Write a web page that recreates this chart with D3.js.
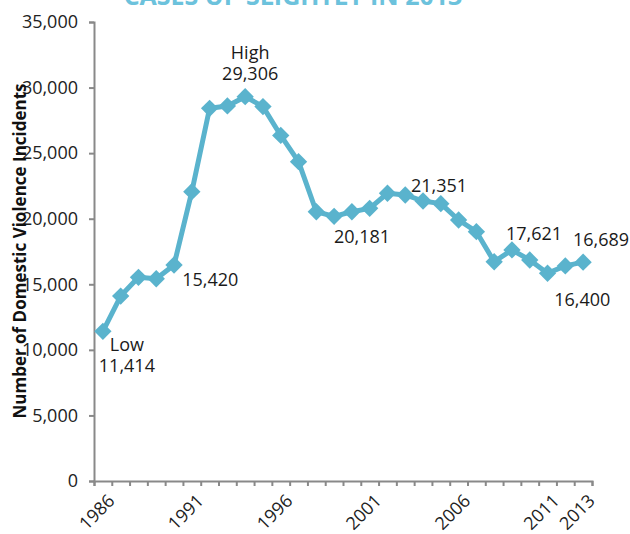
<!DOCTYPE html>
<html>
<head>
<meta charset="utf-8">
<script src="https://cdn.jsdelivr.net/npm/d3@7"></script>
<style>
  body { margin: 0; background: #fff; }
  svg { display: block; font-family: "Open Sans", sans-serif; }
</style>
</head>
<body>
<svg></svg>
<script>
const width = 630;
const height = 534;

const years = d3.range(1986, 2014);
const incidents = [11414, 14100, 15530, 15420, 16470, 22060, 28420, 28600, 29306, 28550,
    26350, 24350, 20530, 20181, 20530, 20790, 21940, 21810, 21351, 21150,
    19900, 19010, 16720, 17621, 16850, 15840, 16400, 16689];
const yTicks = [0, 5000, 10000, 15000, 20000, 25000, 30000, 35000];
const xLabels = [1986, 1991, 1996, 2001, 2006, 2011, 2013];

// annotations: year, text lines, offset from the point
const notes = [
    { year: 1986, lines: ['Low', '11,414'], dx: 24, dy: 20, anchor: 'middle' },
    { year: 1989, lines: ['15,420'], dx: 26, dy: 7, anchor: 'start' },
    { year: 1994, lines: ['High', '29,306'], dx: 5, dy: -38, anchor: 'middle' },
    { year: 1999, lines: ['20,181'], dx: 28, dy: 27, anchor: 'middle' },
    { year: 2004, lines: ['21,351'], dx: 16, dy: -9, anchor: 'middle' },
    { year: 2009, lines: ['17,621'], dx: 22, dy: -10, anchor: 'middle' },
    { year: 2012, lines: ['16,400'], dx: 17, dy: 40, anchor: 'middle' },
    { year: 2013, lines: ['16,689'], dx: 18, dy: -16, anchor: 'middle' }
];

const plotLeft = 94, plotRight = 592, plotTop = 22, plotBottom = 481;
const lineColor = '#5ab3cd';
const axisColor = '#898989';

const svg = d3.select('svg')
    .attr('width', width)
    .attr('height', height);

const xScale = d3.scaleBand()
    .domain(years)
    .range([plotLeft, plotRight]);

const xEdges = d3.scaleLinear()
    .domain([1985.5, 2013.5])
    .range([plotLeft, plotRight]);

const yScale = d3.scaleLinear()
    .domain([0, 35000])
    .range([plotBottom, plotTop]);

const cx = y => xScale(y) + xScale.bandwidth() / 2;

// title, cut off at the top
svg.append('text')
    .attr('x', 293)
    .attr('y', 5)
    .attr('text-anchor', 'middle')
    .attr('font-size', 25)
    .attr('font-weight', 'bold')
    .attr('fill', '#6cc2dc')
    .text('CASES UP SLIGHTLY IN 2013');

// y axis
const yAxis = svg.append('g')
    .attr('transform', `translate(${plotLeft}, 0)`)
    .call(d3.axisLeft(yScale)
        .tickValues(yTicks)
        .tickSize(5)
        .tickPadding(11)
        .tickFormat(d3.format(',')));

yAxis.selectAll('text')
    .attr('font-size', 18)
    .attr('font-family', '"Open Sans", sans-serif')
    .attr('fill', '#222');

// x axis tick marks between categories
svg.append('g')
    .attr('transform', `translate(0, ${plotBottom})`)
    .call(d3.axisBottom(xEdges)
        .tickValues(d3.range(1985.5, 2014, 1))
        .tickSize(5)
        .tickFormat(''));

// x labels at category centres
svg.append('g')
    .selectAll('text')
    .data(xLabels)
    .enter()
    .append('text')
    .attr('transform', d => `translate(${cx(d) + 4}, ${plotBottom + 12}) rotate(-45)`)
    .attr('text-anchor', 'end')
    .attr('dy', '0.7em')
    .attr('font-size', 18)
    .attr('fill', '#222')
    .text(d => d);

svg.selectAll('.domain, .tick line')
    .attr('stroke', axisColor)
    .attr('stroke-width', 2);

// axis title
svg.append('text')
    .attr('transform', `translate(26, 251) rotate(-90)`)
    .attr('text-anchor', 'middle')
    .attr('font-size', 17)
    .attr('font-weight', 'bold')
    .attr('fill', '#111')
    .text('Number of Domestic Violence Incidents');

// line
const line = d3.line()
    .x((d, i) => cx(years[i]))
    .y(d => yScale(d));

svg.append('path')
    .datum(incidents)
    .attr('fill', 'none')
    .attr('stroke', lineColor)
    .attr('stroke-width', 5)
    .attr('stroke-linejoin', 'round')
    .attr('d', line);

svg.selectAll('.marker')
    .data(incidents)
    .enter()
    .append('path')
    .attr('class', 'marker')
    .attr('d', d3.symbol().type(d3.symbolSquare).size(150))
    .attr('transform', (d, i) => `translate(${cx(years[i])}, ${yScale(d)}) rotate(45)`)
    .attr('fill', lineColor);

// annotations, one text per line
const noteLines = notes.flatMap(n => n.lines.map((t, i) => ({
    t,
    anchor: n.anchor,
    x: cx(n.year) + n.dx,
    y: yScale(incidents[years.indexOf(n.year)]) + n.dy + i * 21
})));

svg.selectAll('.note')
    .data(noteLines)
    .enter()
    .append('text')
    .attr('class', 'note')
    .attr('text-anchor', d => d.anchor)
    .attr('font-size', 18)
    .attr('fill', '#1a1a1a')
    .attr('x', d => d.x)
    .attr('y', d => d.y)
    .text(d => d.t);
</script>
</body>
</html>
